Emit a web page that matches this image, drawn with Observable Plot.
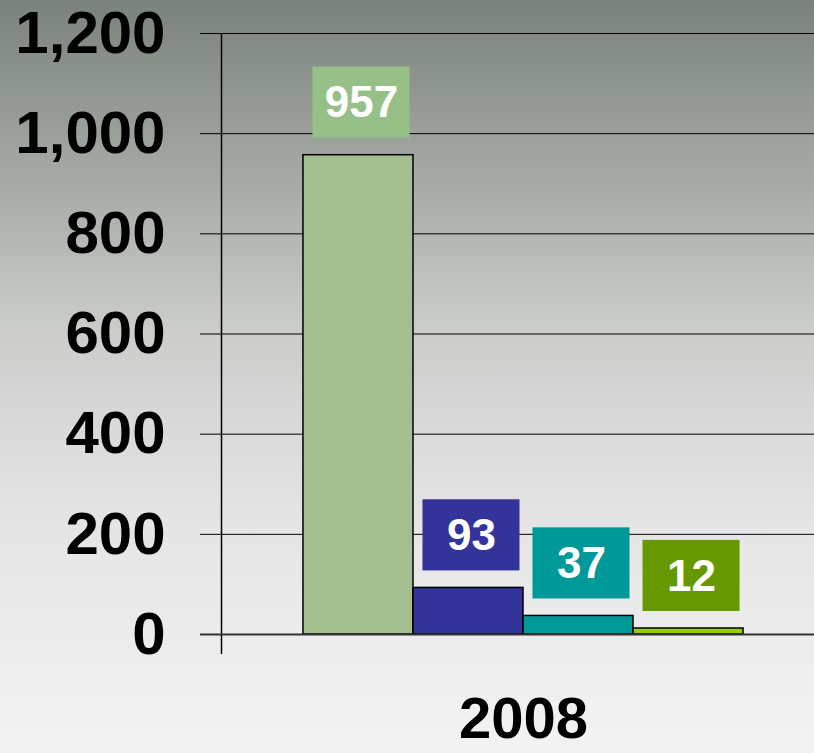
<!DOCTYPE html>
<html>
<head>
<meta charset="utf-8">
<script src="https://cdn.jsdelivr.net/npm/d3@7"></script>
<script src="https://cdn.jsdelivr.net/npm/@observablehq/plot@0.6"></script>
<style>
  html, body { margin: 0; padding: 0; background: #f2f2f2; }
</style>
</head>
<body>
<div id="chart"></div>
<script>
const category = "2008";
const series = ["A", "B", "C", "D"];
const values = [957, 93, 37, 12];
const barColors = ["#a3bf90", "#333399", "#009999", "#99cc00"];
const boxColors = ["#96c088", "#333399", "#009999", "#669900"];
const yTicks = [0, 200, 400, 600, 800, 1000, 1200];

const data = series.map((s, i) => ({
  s, i, v: values[i], bar: barColors[i], box: boxColors[i]
}));

const xLeft = -0.745, xRight = 4.645, gridLeft = -0.936;

const chart = Plot.plot({
  width: 814,
  height: 753,
  marginLeft: 221,
  marginRight: 0,
  marginTop: 33,
  marginBottom: 119,
  style: {
    background: "linear-gradient(to bottom, #7a837b 0%, #a7aca6 25%, #cbcdc9 44%, #d8d8d8 55%, #e5e5e5 70%, #f3f3f3 100%)",
    fontFamily: "'Liberation Sans', Arial, sans-serif",
    color: "black"
  },
  x: { type: "linear", domain: [xLeft, xRight], axis: null },
  y: { domain: [0, 1200], axis: null },
  color: { type: "identity" },
  marks: [
    Plot.ruleY(yTicks.filter(t => t > 0), { x1: gridLeft, x2: xRight, stroke: "black", strokeWidth: 1 }),
    Plot.ruleX([xLeft], { y1: -40, y2: 1200, stroke: "black", strokeWidth: 1.5 }),
    Plot.rectY(data, { x1: d => d.i, x2: d => d.i + 1, y: "v", fill: "bar", stroke: "black", strokeWidth: 1.5 }),
    Plot.ruleY([0], { x1: gridLeft, x2: xRight, stroke: "#333", strokeWidth: 2 }),
    Plot.rect(data, { x1: d => d.i, x2: d => d.i + 1, y1: "v", y2: d => d.v + 142, dy: -17, dx: 3, insetLeft: 6.5, insetRight: 6.5, fill: "box" }),
    Plot.text(data, { x: d => d.i + 0.5, y: "v", dy: -52, dx: 3, text: d => String(d.v), fill: "white", fontSize: 44, fontWeight: "bold" }),
    Plot.axisY({ ticks: yTicks, tickSize: 0, tickPadding: 56, fontSize: 60, fontWeight: "bold", tickFormat: d3.format(","), label: null }),
    Plot.axisX({ ticks: [2], tickSize: 0, tickPadding: 62, fontSize: 58, fontWeight: "bold", tickFormat: () => category, label: null })
  ]
});

document.getElementById("chart").appendChild(chart);
</script>
</body>
</html>
